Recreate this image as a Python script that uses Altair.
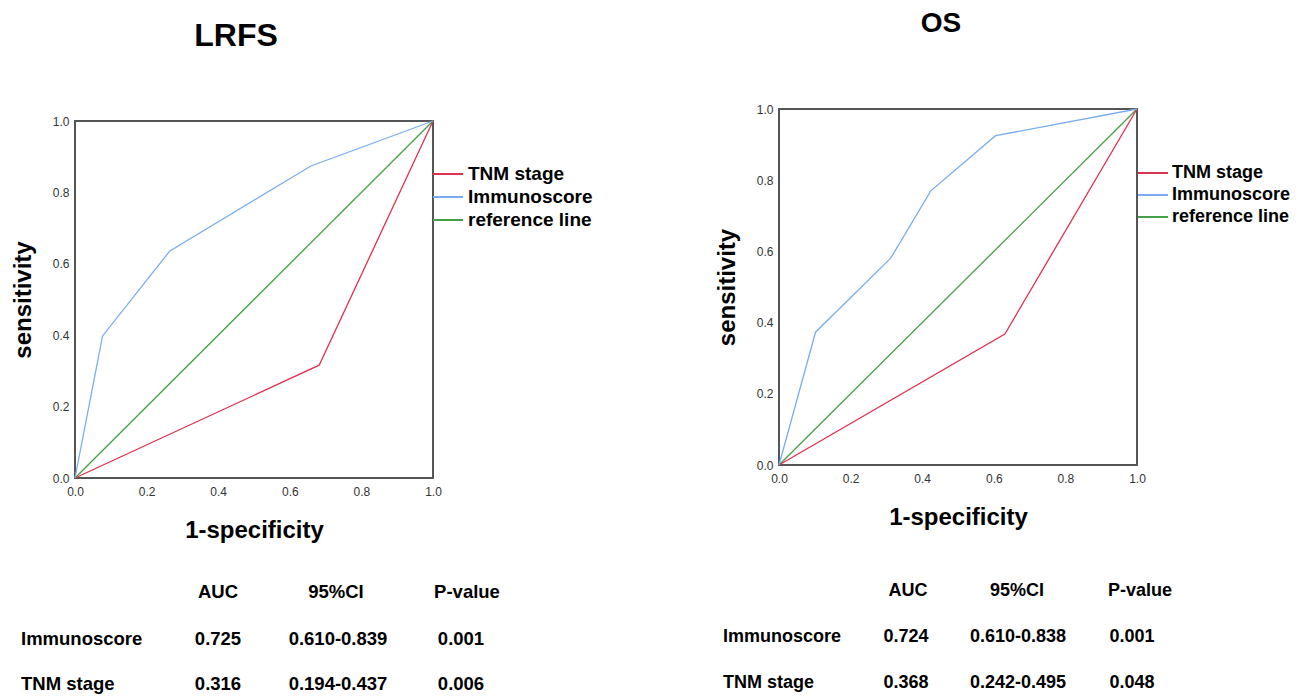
import altair as alt
import pandas as pd

FONT = "Liberation Sans"

# ---------------- data ----------------
series_names = ["TNM stage", "Immunoscore", "reference line"]
series_colors = ["#e0314f", "#78aef0", "#46a046"]

lrfs_tnm_x = [0.0, 0.682, 1.0]
lrfs_tnm_y = [0.0, 0.316, 1.0]
lrfs_imm_x = [0.0, 0.077, 0.265, 0.659, 1.0]
lrfs_imm_y = [0.0, 0.398, 0.636, 0.874, 1.0]

os_tnm_x = [0.0, 0.631, 1.0]
os_tnm_y = [0.0, 0.368, 1.0]
os_imm_x = [0.0, 0.102, 0.312, 0.424, 0.605, 1.0]
os_imm_y = [0.0, 0.373, 0.581, 0.770, 0.925, 1.0]

ref_x = [0.0, 1.0]
ref_y = [0.0, 1.0]

axis_ticks = [0.0, 0.2, 0.4, 0.6, 0.8, 1.0]

table_header = ["AUC", "95%CI", "P-value"]
table_rows = ["Immunoscore", "TNM stage"]
lrfs_auc = ["0.725", "0.316"]
lrfs_ci = ["0.610-0.839", "0.194-0.437"]
lrfs_p = ["0.001", "0.006"]
os_auc = ["0.724", "0.368"]
os_ci = ["0.610-0.838", "0.242-0.495"]
os_p = ["0.001", "0.048"]


def curves(tnm_x, tnm_y, imm_x, imm_y):
    recs = []
    for name, xs, ys in [("reference line", ref_x, ref_y),
                         ("TNM stage", tnm_x, tnm_y),
                         ("Immunoscore", imm_x, imm_y)]:
        for i, (a, b) in enumerate(zip(xs, ys)):
            recs.append({"series": name, "fpr": a, "tpr": b, "i": i})
    return pd.DataFrame(recs)


def txt(value, x, y, size, align="center", baseline="middle", weight="bold"):
    return alt.Chart(pd.DataFrame({"v": [value]})).mark_text(
        font=FONT, fontSize=size, fontWeight=weight, align=align,
        baseline=baseline, color="#000", clip=False
    ).encode(text="v:N", x=alt.value(x), y=alt.value(y))


def panel(title, title_size, title_xy, df, W, H, yrange, leg_xy, leg_font, leg_off,
          auc, ci, p, lab_x, head_x, val_x, head_y, row_y, tbl_font):
    xs = alt.Scale(domain=[0, 1], nice=False, zero=False)
    ys = alt.Scale(domain=[0, 1], nice=False, zero=False, range=yrange)
    frame = alt.Chart(pd.DataFrame({"a": [0]})).mark_rect(
        fillOpacity=0, stroke="#555", strokeWidth=2, clip=False
    ).encode(x=alt.datum(0.0, type="quantitative"), x2=alt.datum(1.0),
             y=alt.datum(0.0, type="quantitative"), y2=alt.datum(1.0))
    lines = alt.Chart(df).mark_line(strokeWidth=1.3, clip=False).encode(
        x=alt.X("fpr:Q", scale=xs,
                axis=alt.Axis(values=axis_ticks, format=".1f", title="1-specificity",
                              labelPadding=8, titlePadding=21)),
        y=alt.Y("tpr:Q", scale=ys,
                axis=alt.Axis(values=axis_ticks, format=".1f", title="sensitivity",
                              labelPadding=6, titlePadding=17)),
        color=alt.Color("series:N",
                        scale=alt.Scale(domain=series_names, range=series_colors),
                        legend=alt.Legend(orient="none", legendX=leg_xy[0], legendY=leg_xy[1],
                                          title=None, symbolType="M-1.5,0H1.5", symbolSize=400,
                                          symbolStrokeWidth=2, labelFont=FONT,
                                          labelFontSize=leg_font, labelFontWeight="bold",
                                          labelColor="#000", labelOffset=leg_off,
                                          rowPadding=2, padding=0)),
        detail="series:N",
        order="i:Q",
    )
    layers = [frame, lines, txt(title, title_xy[0], title_xy[1], title_size, baseline="alphabetic")]
    for j, h in enumerate(table_header):
        layers.append(txt(h, head_x[j], head_y, tbl_font))
    for i, r in enumerate(table_rows):
        layers.append(txt(r, lab_x, row_y[i], tbl_font, align="left"))
        layers.append(txt(auc[i], val_x[0], row_y[i], tbl_font))
        layers.append(txt(ci[i], val_x[1], row_y[i], tbl_font))
        layers.append(txt(p[i], val_x[2], row_y[i], tbl_font))
    return alt.layer(*layers).properties(width=W, height=H)


left = panel("LRFS", 32, (161, -63), curves(lrfs_tnm_x, lrfs_tnm_y, lrfs_imm_x, lrfs_imm_y),
             358, 369, [369, 12], (362, 54), 19, 9,
             lrfs_auc, lrfs_ci, lrfs_p,
             -54, [143, 261, 392], [143, 263, 386], 483, [530, 575], 18.5)

right = panel("OS", 28, (162, -77), curves(os_tnm_x, os_tnm_y, os_imm_x, os_imm_y),
              358, 356, [356, 0], (363, 53), 18, 8,
              os_auc, os_ci, os_p,
              -56, [129, 238, 361], [127, 239, 353], 482, [528, 574], 18)

chart = alt.hconcat(left, right, spacing=122).resolve_scale(
    color="independent").resolve_legend(color="independent").properties(
    padding={"left": 3, "top": 2, "right": 0, "bottom": 0}
).configure_view(strokeWidth=0).configure_axis(
    labelFont=FONT, labelFontSize=12, labelColor="#333", ticks=False, domain=False,
    grid=False, titleFont=FONT, titleFontSize=24, titleFontWeight="bold",
    titleColor="#000", labelFlush=False
)

chart.save("out.html", embed_options={"renderer": "svg", "actions": False})
